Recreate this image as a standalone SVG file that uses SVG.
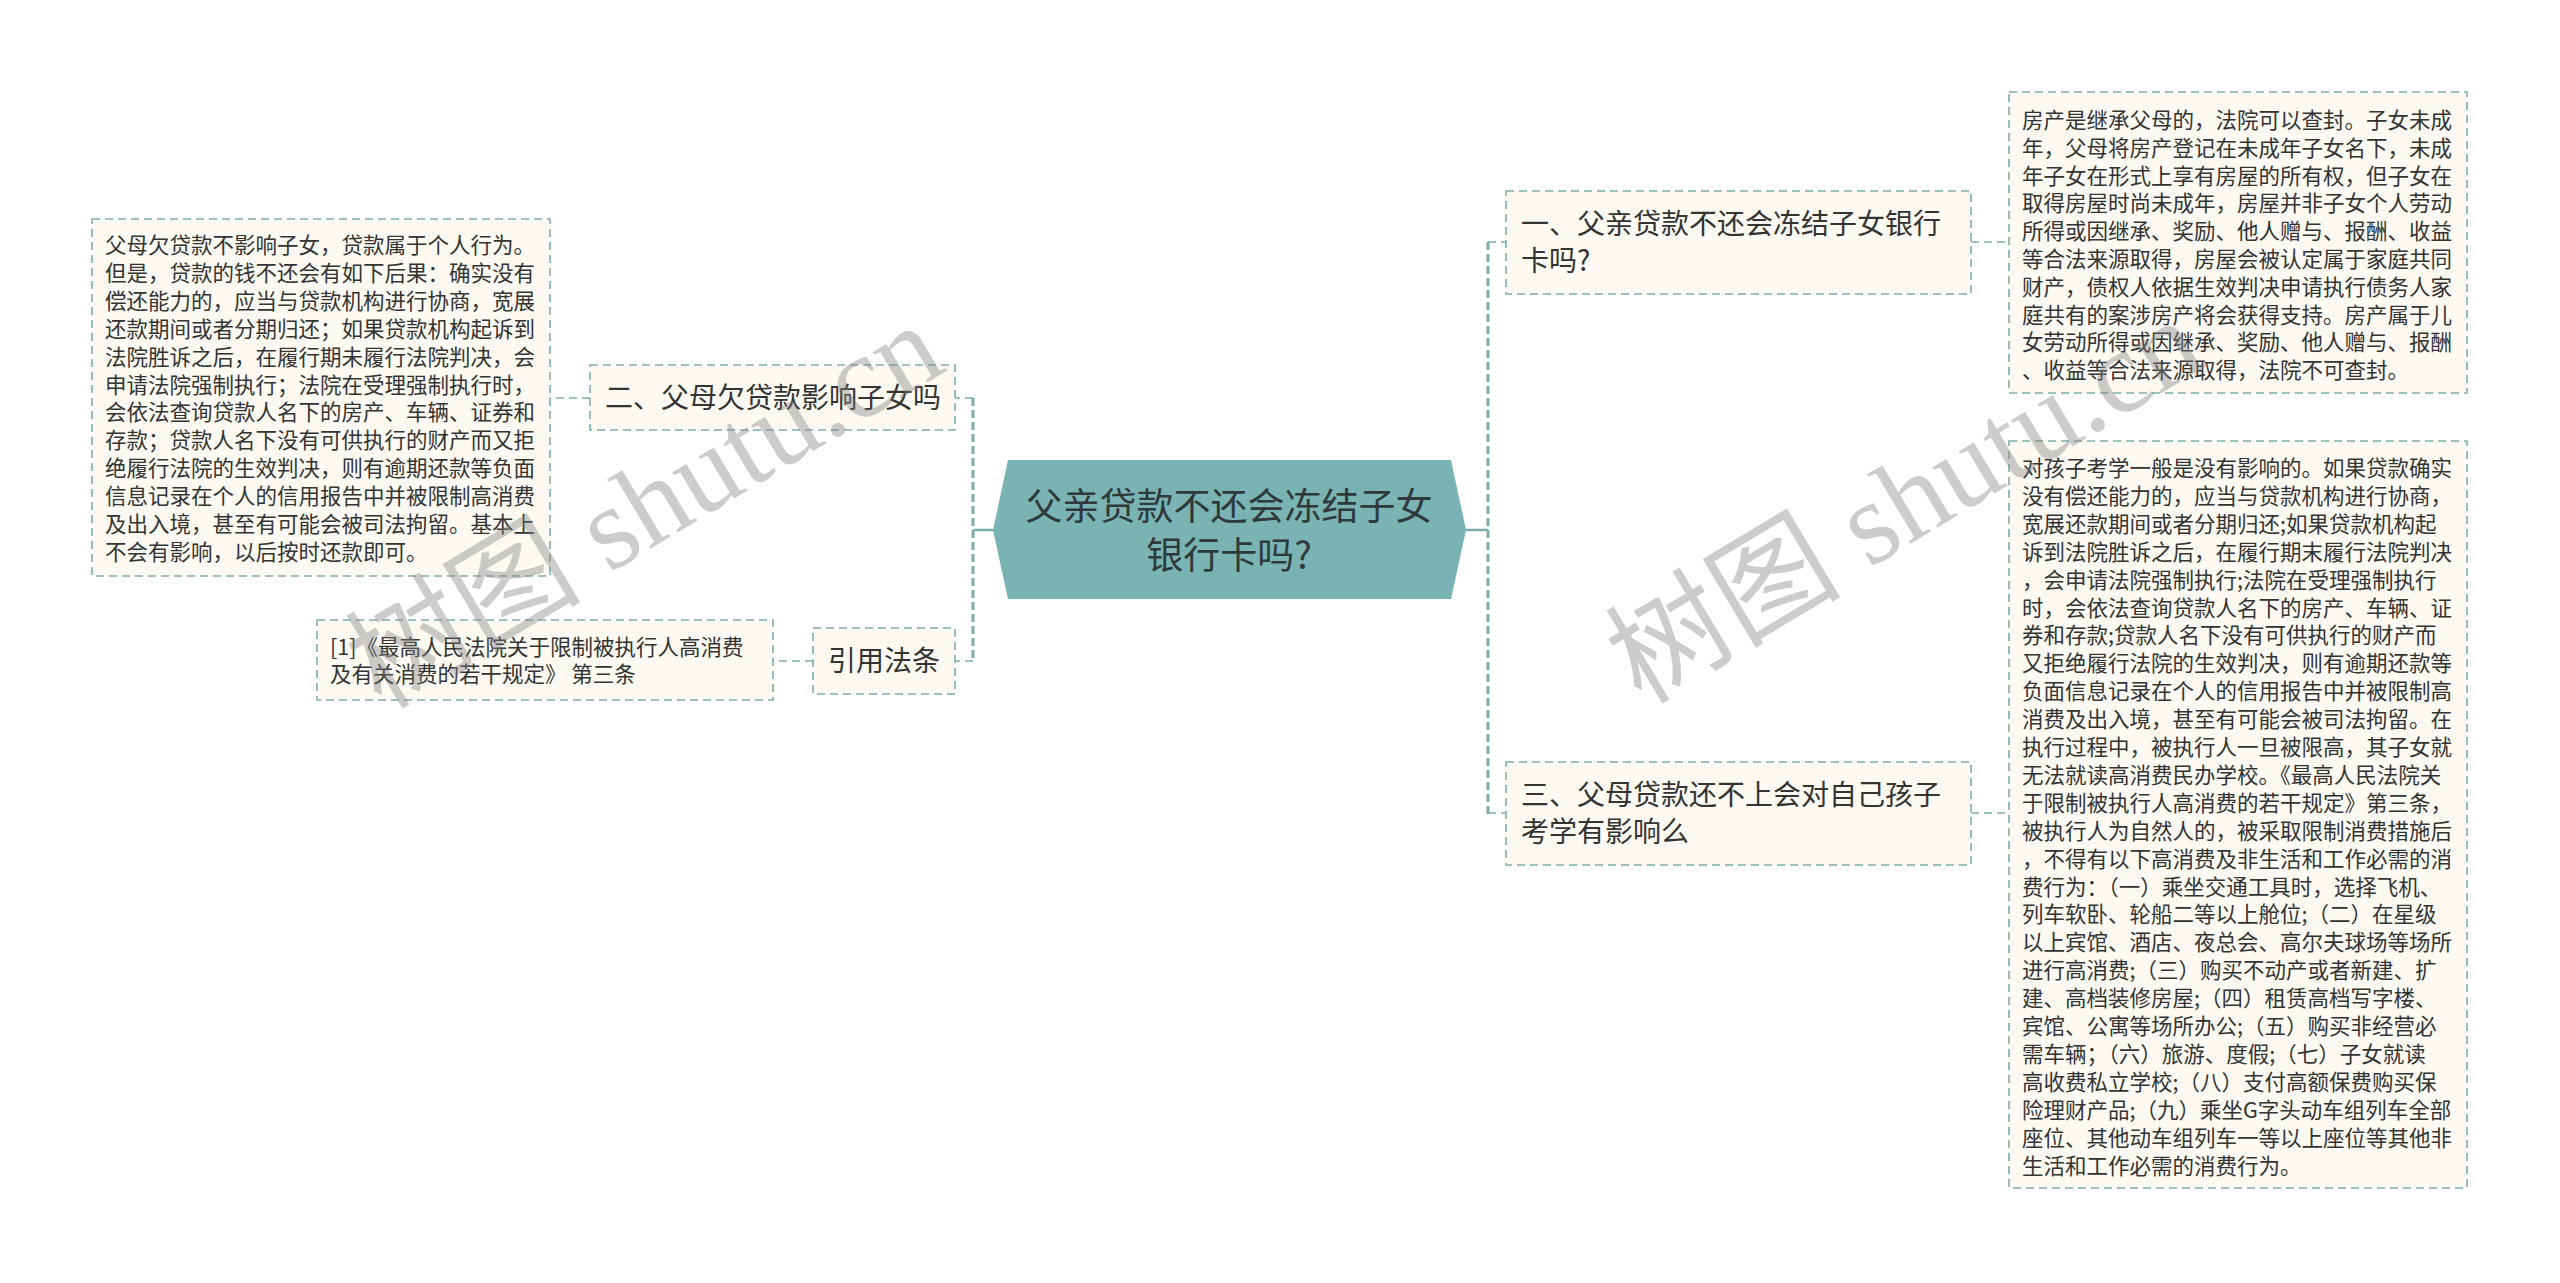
<svg xmlns="http://www.w3.org/2000/svg" width="2560" height="1283" viewBox="0 0 2560 1283">
<style>
.bg{fill:#ffffff}
.box{fill:#fcfaf3;stroke:#7fadaf;stroke-width:1.6;stroke-dasharray:8 5}
.t{font-family:"Noto Sans CJK SC","Liberation Sans",sans-serif;fill:#333333}
.s{font-size:21.5px}
.h{font-size:28px}
.c{font-size:37px;text-anchor:middle;fill:#2e3a3a}
.link{stroke:#7fadaf;stroke-width:1.6;stroke-dasharray:8 5;fill:none}
.spine{stroke:#7fadaf;stroke-width:3;stroke-dasharray:8 4;fill:none}
.solid{stroke:#7fadaf;stroke-width:2.5;fill:none}
.wm{font-family:"Liberation Serif","Noto Sans CJK SC",serif;font-size:118px;fill:#808080;fill-opacity:0.4}
</style>
<rect class="bg" x="0" y="0" width="2560" height="1283"/>

<g id="connectors">
  <path class="solid" d="M993 530 H973"/>
  <path class="spine" d="M973 398 V662"/>
  <path class="link" d="M973 398 H955"/>
  <path class="link" d="M973 661 H955"/>
  <path class="link" d="M590 398 H550"/>
  <path class="link" d="M813 661 H773"/>
  <path class="solid" d="M1465 530 H1488"/>
  <path class="spine" d="M1488 242 V814"/>
  <path class="link" d="M1488 242 H1506"/>
  <path class="link" d="M1488 813 H1506"/>
  <path class="link" d="M1971 242 H2009"/>
  <path class="link" d="M1971 813 H2009"/>
</g>

<g id="node-center">
  <polygon points="993,530 1008,460 1451,460 1466,530 1451,599 1008,599" fill="#7ab3b4"/>
  <text class="t c"><tspan x="1229" y="520">父亲贷款不还会冻结子女</tspan><tspan x="1229" y="569">银行卡吗?</tspan></text>
</g>

<g id="node-1">
  <rect class="box" x="1506" y="191" width="465" height="103"/>
  <text class="t h"><tspan x="1521" y="234">一、父亲贷款不还会冻结子女银行</tspan><tspan x="1521" y="271">卡吗?</tspan></text>
</g>

<g id="node-1-detail">
  <rect class="box" x="2009" y="92" width="458" height="301"/>
  <text class="t s">
    <tspan x="2022" y="128">房产是继承父母的，法院可以查封。子女未成</tspan>
    <tspan x="2022" y="155.8">年，父母将房产登记在未成年子女名下，未成</tspan>
    <tspan x="2022" y="183.6">年子女在形式上享有房屋的所有权，但子女在</tspan>
    <tspan x="2022" y="211.4">取得房屋时尚未成年，房屋并非子女个人劳动</tspan>
    <tspan x="2022" y="239.2">所得或因继承、奖励、他人赠与、报酬、收益</tspan>
    <tspan x="2022" y="267">等合法来源取得，房屋会被认定属于家庭共同</tspan>
    <tspan x="2022" y="294.8">财产，债权人依据生效判决申请执行债务人家</tspan>
    <tspan x="2022" y="322.6">庭共有的案涉房产将会获得支持。房产属于儿</tspan>
    <tspan x="2022" y="350.4">女劳动所得或因继承、奖励、他人赠与、报酬</tspan>
    <tspan x="2022" y="378.2">、收益等合法来源取得，法院不可查封。</tspan>
  </text>
</g>

<g id="node-3">
  <rect class="box" x="1506" y="762" width="465" height="103"/>
  <text class="t h"><tspan x="1521" y="805">三、父母贷款还不上会对自己孩子</tspan><tspan x="1521" y="842">考学有影响么</tspan></text>
</g>

<g id="node-3-detail">
  <rect class="box" x="2009" y="441" width="458" height="747"/>
  <text class="t s">
    <tspan x="2022" y="476">对孩子考学一般是没有影响的。如果贷款确实</tspan>
    <tspan x="2022" y="503.9">没有偿还能力的，应当与贷款机构进行协商，</tspan>
    <tspan x="2022" y="531.8">宽展还款期间或者分期归还;如果贷款机构起</tspan>
    <tspan x="2022" y="559.7">诉到法院胜诉之后，在履行期末履行法院判决</tspan>
    <tspan x="2022" y="587.6">，会申请法院强制执行;法院在受理强制执行</tspan>
    <tspan x="2022" y="615.5">时，会依法查询贷款人名下的房产、车辆、证</tspan>
    <tspan x="2022" y="643.4">券和存款;贷款人名下没有可供执行的财产而</tspan>
    <tspan x="2022" y="671.3">又拒绝履行法院的生效判决，则有逾期还款等</tspan>
    <tspan x="2022" y="699.2">负面信息记录在个人的信用报告中并被限制高</tspan>
    <tspan x="2022" y="727.1">消费及出入境，甚至有可能会被司法拘留。在</tspan>
    <tspan x="2022" y="755">执行过程中，被执行人一旦被限高，其子女就</tspan>
    <tspan x="2022" y="782.9">无法就读高消费民办学校。《最高人民法院关</tspan>
    <tspan x="2022" y="810.8">于限制被执行人高消费的若干规定》第三条，</tspan>
    <tspan x="2022" y="838.7">被执行人为自然人的，被采取限制消费措施后</tspan>
    <tspan x="2022" y="866.6">，不得有以下高消费及非生活和工作必需的消</tspan>
    <tspan x="2022" y="894.5">费行为：（一）乘坐交通工具时，选择飞机、</tspan>
    <tspan x="2022" y="922.4">列车软卧、轮船二等以上舱位;（二）在星级</tspan>
    <tspan x="2022" y="950.3">以上宾馆、酒店、夜总会、高尔夫球场等场所</tspan>
    <tspan x="2022" y="978.2">进行高消费;（三）购买不动产或者新建、扩</tspan>
    <tspan x="2022" y="1006.1">建、高档装修房屋;（四）租赁高档写字楼、</tspan>
    <tspan x="2022" y="1034">宾馆、公寓等场所办公;（五）购买非经营必</tspan>
    <tspan x="2022" y="1061.9">需车辆；（六）旅游、度假;（七）子女就读</tspan>
    <tspan x="2022" y="1089.8">高收费私立学校;（八）支付高额保费购买保</tspan>
    <tspan x="2022" y="1117.7">险理财产品;（九）乘坐G字头动车组列车全部</tspan>
    <tspan x="2022" y="1145.6">座位、其他动车组列车一等以上座位等其他非</tspan>
    <tspan x="2022" y="1173.5">生活和工作必需的消费行为。</tspan>
  </text>
</g>

<g id="node-2">
  <rect class="box" x="590" y="365" width="365" height="65"/>
  <text class="t h" x="605" y="408">二、父母欠贷款影响子女吗</text>
</g>

<g id="node-2-detail">
  <rect class="box" x="92" y="219" width="458" height="357"/>
  <text class="t s">
    <tspan x="105" y="253">父母欠贷款不影响子女，贷款属于个人行为。</tspan>
    <tspan x="105" y="280.9">但是，贷款的钱不还会有如下后果：确实没有</tspan>
    <tspan x="105" y="308.8">偿还能力的，应当与贷款机构进行协商，宽展</tspan>
    <tspan x="105" y="336.7">还款期间或者分期归还；如果贷款机构起诉到</tspan>
    <tspan x="105" y="364.6">法院胜诉之后，在履行期未履行法院判决，会</tspan>
    <tspan x="105" y="392.5">申请法院强制执行；法院在受理强制执行时，</tspan>
    <tspan x="105" y="420.4">会依法查询贷款人名下的房产、车辆、证券和</tspan>
    <tspan x="105" y="448.3">存款；贷款人名下没有可供执行的财产而又拒</tspan>
    <tspan x="105" y="476.2">绝履行法院的生效判决，则有逾期还款等负面</tspan>
    <tspan x="105" y="504.1">信息记录在个人的信用报告中并被限制高消费</tspan>
    <tspan x="105" y="532">及出入境，甚至有可能会被司法拘留。基本上</tspan>
    <tspan x="105" y="559.9">不会有影响，以后按时还款即可。</tspan>
  </text>
</g>

<g id="node-cite">
  <rect class="box" x="813" y="628" width="142" height="66"/>
  <text class="t h" x="828" y="671">引用法条</text>
</g>

<g id="node-cite-detail">
  <rect class="box" x="317" y="620" width="456" height="80"/>
  <text class="t s"><tspan x="330" y="655">[1]《最高人民法院关于限制被执行人高消费</tspan><tspan x="330" y="682">及有关消费的若干规定》 第三条</tspan></text>
</g>

<g id="watermarks">
  <text class="wm" transform="translate(665,540) rotate(-31)" text-anchor="middle">树图 shutu.cn</text>
  <text class="wm" transform="translate(1925,535) rotate(-31)" text-anchor="middle">树图 shutu.cn</text>
</g>
</svg>
